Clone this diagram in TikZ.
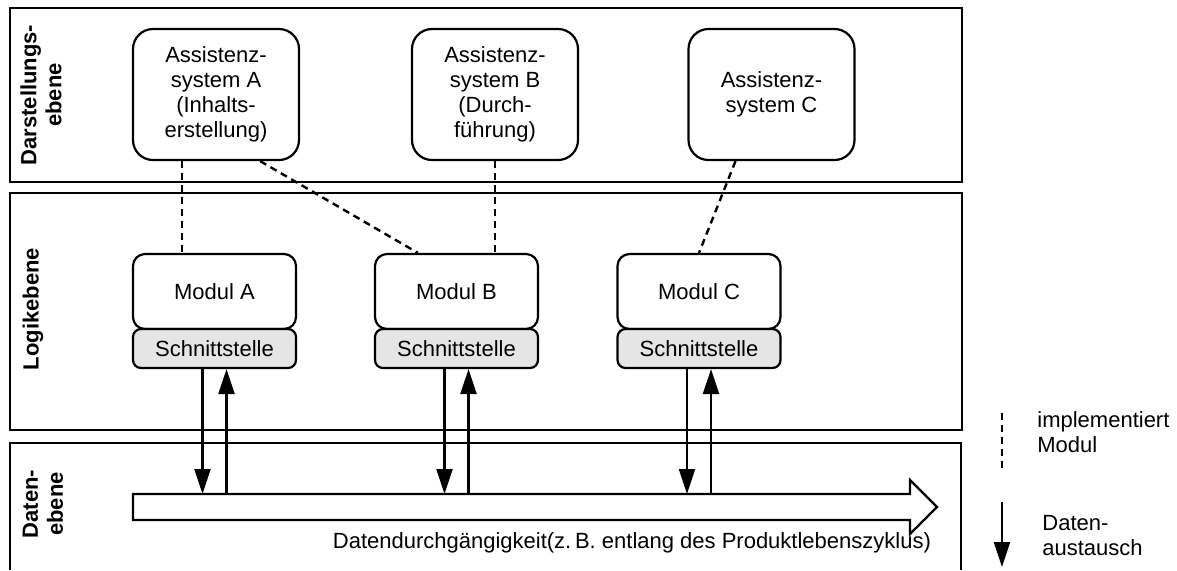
\documentclass[tikz,border=0pt]{standalone}
\usepackage{fontspec}
\setmainfont{Liberation Sans}
\usepackage{tikz}
\usetikzlibrary{calc,arrows.meta}

\begin{document}
\begin{tikzpicture}[x=0.5pt,y=-0.5pt,
	every node/.style={font=\fontsize{11}{12.5}\selectfont},
	frame/.style={draw,line width=1.1pt},
	layerlabel/.style={rotate=90,align=center,font=\fontsize{11}{12.5}\selectfont\bfseries},
	assist/.style={draw,line width=1.1pt,rounded corners=10pt,minimum width=83pt,minimum height=65.5pt,align=center,inner sep=0pt},
	modul/.style={draw,line width=1.1pt,rounded corners=6pt,minimum width=81.5pt,minimum height=37.5pt,inner sep=0pt},
	iface/.style={draw,line width=1.1pt,rounded corners=4pt,fill=black!10,minimum width=81.5pt,minimum height=19.5pt,inner sep=0pt},
	impl/.style={line width=1.2pt,dash pattern=on 3.5pt off 2.5pt},
	dat/.style={line width=1.1pt,-{Triangle[length=12.5pt,width=8pt]}}]
	\useasboundingbox (0,0) rectangle (1177,570);
	
	%layers
	\draw[frame] (10,8) rectangle (962,182);
	\draw[frame] (10,193) rectangle (962,430);
	\draw[frame] (10,570)--(10,443)--(961,443)--(961,570);
	
	\node[layerlabel] (lblDar) at (41,95)  {Darstellungs-\\ebene};
	\node[layerlabel] (lblLog) at (33,309) {Logikebene};
	\node[layerlabel] (lblDat) at (43,504) {Daten-\\ebene};
	
	%assistance systems
	\node[assist] (asA) at (216,94.5)   {Assistenz-\\system A\\(Inhalts-\\erstellung)};
	\node[assist] (asB) at (495,94.5)   {Assistenz-\\system B\\(Durch-\\führung)};
	\node[assist] (asC) at (771.5,94.5) {Assistenz-\\system C};
	
	%modules
	\node[modul] (modA) at (214.5,291.5) {Modul A};
	\node[modul] (modB) at (456.5,291.5) {Modul B};
	\node[modul] (modC) at (699,291.5)   {Modul C};
	%
	\node[iface] (sA) at (214.5,348.5) {Schnittstelle};
	\node[iface] (sB) at (456.5,348.5) {Schnittstelle};
	\node[iface] (sC) at (699,348.5)   {Schnittstelle};
	
	%implements
	\draw[impl] ([xshift=25pt]asA.south west) -- ([xshift=25pt]modA.north west);
	\draw[impl] ([xshift=-20pt]asA.south east) -- ([xshift=22pt]modB.north west);
	\draw[impl] (asB.south) -- (asB.south |- modB.north);
	\draw[impl] ([xshift=-18pt]asC.south) -- (modC.north);
	
	%data flow
	\draw[frame] (133,494)--(910,494)--(910,480)--(937,507)--(910,534)--(910,520)--(133,520)--cycle;
	\coordinate (flowtop) at (133,494);
	\node[anchor=east] (flowlbl) at (938,543) {Datendurchgängigkeit(z.\,B. entlang des Produktlebenszyklus)};
	
	%data exchange
	\foreach \s in {sA,sB,sC}{
		\draw[dat] ([xshift=-6pt]\s.south) -- ([xshift=-6pt]\s.south |- flowtop);
		\draw[dat] ([xshift=6pt]\s.south |- flowtop) -- ([xshift=6pt]\s.south);
	}
	
	%legend
	\coordinate (legImplA) at (1002,413);
	\coordinate (legImplB) at (1002,470);
	\draw[impl] (legImplA) -- (legImplB);
	\node[anchor=west,align=left,inner sep=0pt] (legImpl) at (1037,432.5) {implementiert\\Modul};
	%
	\coordinate (legDatA) at (1002,502);
	\coordinate (legDatB) at (1002,567);
	\draw[dat] (legDatA) -- (legDatB);
	\node[anchor=west,align=left,inner sep=0pt] (legDat) at (1042,536) {Daten-\\austausch};
\end{tikzpicture}
\end{document}
